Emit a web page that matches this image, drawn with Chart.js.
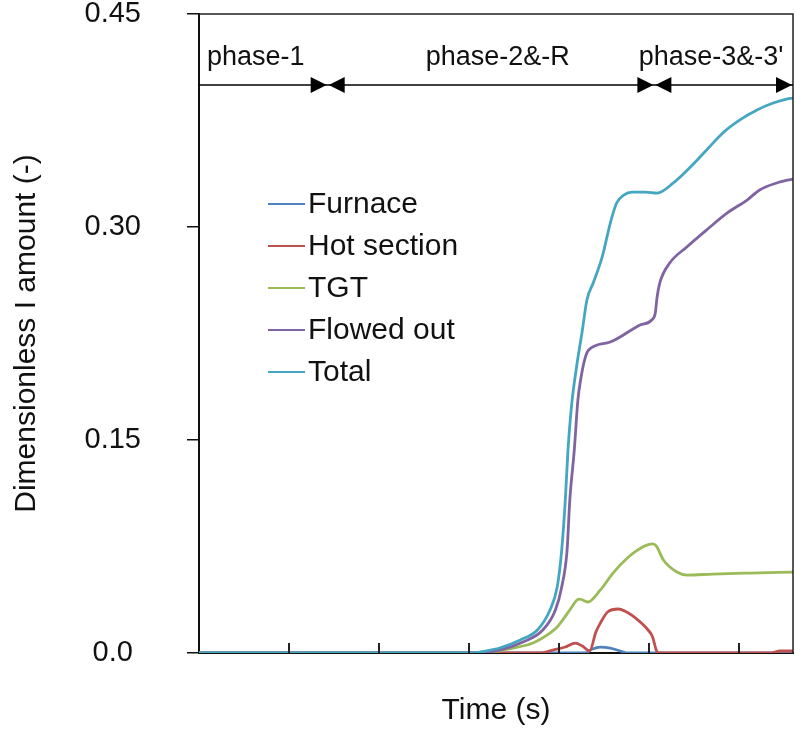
<!DOCTYPE html>
<html>
<head>
<meta charset="utf-8">
<script src="https://cdn.jsdelivr.net/npm/chart.js@4.4.1/dist/chart.umd.min.js"></script>
<style>
  html, body { margin: 0; padding: 0; background: #fff; }
</style>
</head>
<body>
<canvas id="amount-chart" width="795" height="742"></canvas>
<script>
// ================== data ======================
const seriesNames = ["Furnace", "Hot section", "TGT", "Flowed out", "Total"];
const seriesColors = ["#4F81BD", "#C0504D", "#9BBB59", "#8064A2", "#45A6C2"];

const furnaceTime = [0, 429, 437, 446, 457, 468, 477, 660];
const furnaceAmount = [0, 0, 0.0028, 0.0042, 0.0035, 0.0014, 0, 0];

const hotTime = [0, 379, 393, 407, 418, 426, 434, 441, 446, 454, 466, 473, 482, 499, 504, 508, 510, 634, 646, 660];
const hotAmount = [0, 0, 0.0021, 0.0042, 0.007, 0.0049, 0.0014, 0.0148, 0.0211, 0.0289, 0.031, 0.0296, 0.0261, 0.0162, 0.0113, 0.0021, 0, 0, 0.0014, 0.0014];

const tgtTime = [0, 312, 349, 371, 387, 398, 404, 412, 420, 423, 432, 446, 460, 476, 493, 504, 508, 516, 531, 542, 571, 612, 660];
const tgtAmount = [0, 0, 0.0035, 0.007, 0.0127, 0.0183, 0.0232, 0.0303, 0.0373, 0.038, 0.0359, 0.0444, 0.0563, 0.0669, 0.0746, 0.0768, 0.0754, 0.0655, 0.057, 0.0549, 0.0556, 0.0563, 0.057];

const flowedTime = [0, 301, 334, 360, 382, 396, 403, 409, 412, 417, 421, 424, 429, 433, 457, 490, 503, 507, 509, 512, 523, 542, 564, 587, 609, 623, 642, 660];
const flowedAmount = [0, 0, 0.0021, 0.0077, 0.0162, 0.0303, 0.0465, 0.0725, 0.1077, 0.143, 0.1782, 0.1923, 0.2077, 0.2134, 0.219, 0.231, 0.2345, 0.2394, 0.2507, 0.2606, 0.2746, 0.2859, 0.2979, 0.3099, 0.319, 0.3261, 0.331, 0.3338];

const totalTime = [0, 301, 318, 334, 357, 376, 390, 398, 403, 407, 410, 414, 419, 426, 431, 438, 448, 457, 464, 472, 481, 496, 509, 527, 546, 564, 582, 601, 620, 638, 653, 660];
const totalAmount = [0, 0, 0.0014, 0.0035, 0.0092, 0.0162, 0.0303, 0.0465, 0.0725, 0.1077, 0.143, 0.1746, 0.1993, 0.2275, 0.2486, 0.2606, 0.2789, 0.3028, 0.3169, 0.3225, 0.3246, 0.3246, 0.3239, 0.331, 0.3422, 0.3542, 0.3662, 0.3754, 0.3824, 0.3873, 0.3901, 0.3908];

const yTickValues = [0, 0.15, 0.3, 0.45];
const yTickLabels = ["0.0", "0.15", "0.30", "0.45"];
const xTickValues = [100, 200, 300, 400, 500, 600];

// phases drawn as arrows over the plot
const phaseBounds = [0, 143, 506, 660];
const phaseNames = ["phase-1", "phase-2&-R", "phase-3&-3'"];
const phaseLabelX = [63, 332, 569];
const phaseArrowLevel = 0.40;
const phaseLabelLevel = 0.419;

// draw order: Total on top, Furnace at the bottom
const drawOrder = [4, 3, 2, 1, 0];

function points(t, v) {
  return t.map((x, i) => ({ x: x, y: v[i] }));
}

const seriesData = [
  points(furnaceTime, furnaceAmount),
  points(hotTime, hotAmount),
  points(tgtTime, tgtAmount),
  points(flowedTime, flowedAmount),
  points(totalTime, totalAmount),
];

// ================== extra drawing ======================
const FONT = "'Liberation Sans', Arial, sans-serif";

function arrowHead(ctx, tipX, y, dir) {
  ctx.beginPath();
  ctx.moveTo(tipX, y);
  ctx.lineTo(tipX - dir * 16, y - 8);
  ctx.lineTo(tipX - dir * 16, y + 8);
  ctx.closePath();
  ctx.fill();
}

const decorations = {
  id: "decorations",
  afterDraw(chart) {
    const ctx = chart.ctx;
    const a = chart.chartArea;
    const x = chart.scales.x;
    const y = chart.scales.y;
    ctx.save();

    // frame top + right
    ctx.strokeStyle = "#222";
    ctx.lineWidth = 1.5;
    ctx.beginPath();
    ctx.moveTo(a.left, a.top);
    ctx.lineTo(a.right, a.top);
    ctx.lineTo(a.right, a.bottom);
    ctx.stroke();

    // inside tick marks on the time axis
    ctx.lineWidth = 2;
    xTickValues.forEach((v) => {
      const px = Math.round(x.getPixelForValue(v));
      ctx.beginPath();
      ctx.moveTo(px, a.bottom);
      ctx.lineTo(px, a.bottom - 10);
      ctx.stroke();
    });

    // phase arrows
    const ay = y.getPixelForValue(phaseArrowLevel);
    ctx.strokeStyle = "#000";
    ctx.fillStyle = "#000";
    ctx.lineWidth = 1.5;
    ctx.beginPath();
    ctx.moveTo(x.getPixelForValue(phaseBounds[0]), ay);
    ctx.lineTo(x.getPixelForValue(phaseBounds[phaseBounds.length - 1]), ay);
    ctx.stroke();
    for (let i = 1; i < phaseBounds.length; i++) {
      const bx = x.getPixelForValue(phaseBounds[i]);
      arrowHead(ctx, bx - 1, ay, 1);
      if (i < phaseBounds.length - 1) arrowHead(ctx, bx + 1, ay, -1);
    }
    ctx.font = "27px " + FONT;
    ctx.textAlign = "center";
    ctx.textBaseline = "middle";
    ctx.fillStyle = "#111";
    const ly = y.getPixelForValue(phaseLabelLevel);
    phaseNames.forEach((name, i) => {
      ctx.fillText(name, x.getPixelForValue(phaseLabelX[i]), ly);
    });

    // legend inside the plot
    const legendX = a.left + 69;
    const legendY = a.top + 190;
    ctx.font = "30px " + FONT;
    ctx.textAlign = "left";
    seriesNames.forEach((name, i) => {
      const yy = legendY + i * 42;
      ctx.strokeStyle = seriesColors[i];
      ctx.lineWidth = 2;
      ctx.beginPath();
      ctx.moveTo(legendX, yy);
      ctx.lineTo(legendX + 37, yy);
      ctx.stroke();
      ctx.fillStyle = "#111";
      ctx.fillText(name, legendX + 40, yy + 1);
    });

    ctx.restore();
  },
};

// ================== chart ======================
Chart.defaults.color = "#111";
Chart.defaults.font.family = FONT;

const amountChart = new Chart(document.getElementById("amount-chart"), {
  type: "line",
  data: {
    datasets: seriesNames.map((name, i) => ({
      label: name,
      data: seriesData[i],
      borderColor: seriesColors[i],
      backgroundColor: seriesColors[i],
      borderWidth: 2.8,
      pointRadius: 0,
      cubicInterpolationMode: "monotone",
      order: drawOrder[i],
    })),
  },
  options: {
    responsive: false,
    devicePixelRatio: 1,
    animation: false,
    layout: { autoPadding: false, padding: { top: 14, right: 2, left: 0, bottom: 0 } },
    plugins: {
      legend: { display: false },
      tooltip: { enabled: false },
    },
    scales: {
      x: {
        type: "linear",
        min: 0,
        max: 660,
        ticks: { display: false },
        grid: { display: false },
        border: { display: true, color: "#111", width: 2 },
        title: {
          display: true,
          text: "Time (s)",
          font: { size: 30 },
          padding: { top: 0, bottom: 13 },
        },
        afterFit(scale) {
          scale.height = 89;
          scale.paddingLeft = 0;
          scale.paddingRight = 0;
        },
      },
      y: {
        min: 0,
        max: 0.45,
        afterBuildTicks(scale) {
          scale.ticks = yTickValues.map((v) => ({ value: v }));
        },
        ticks: {
          padding: 46,
          crossAlign: "center",
          font: { size: 29 },
          callback: (value, index) => yTickLabels[index],
        },
        grid: {
          drawOnChartArea: false,
          tickLength: 12,
          color: "#111",
          lineWidth: 1.5,
        },
        border: { display: true, color: "#111", width: 2 },
        title: {
          display: true,
          text: "Dimensionless I amount (-)",
          font: { size: 30 },
          padding: { top: 9, bottom: 0 },
        },
        afterFit(scale) {
          scale.width = 199;
          scale.paddingTop = 0;
          scale.paddingBottom = 0;
        },
      },
    },
  },
  plugins: [decorations],
});
</script>
</body>
</html>
